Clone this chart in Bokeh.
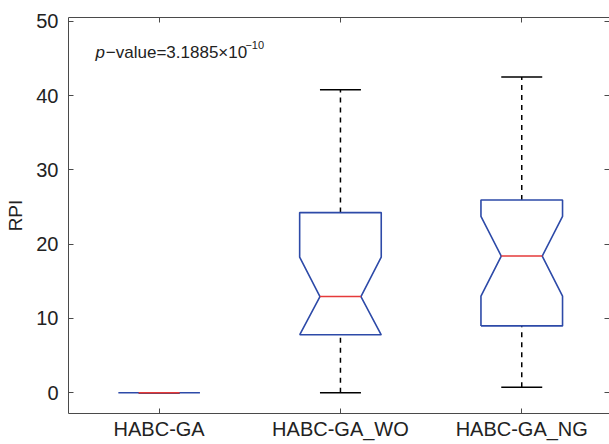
from bokeh.plotting import figure
from bokeh.models import Range1d, FixedTicker, LinearAxis, Label, ColumnDataSource
from bokeh.embed import file_html
from bokeh.resources import INLINE

# ---- data ----
groups = ["HABC-GA", "HABC-GA_WO", "HABC-GA_NG"]
lower_whisker = [0.0, 0.0, 0.75]
q1 = [0.0, 7.8, 9.0]
notch_low = [0.0, 7.8, 13.0]
median = [0.0, 12.95, 18.4]
notch_high = [0.0, 18.25, 23.75]
q3 = [0.0, 24.25, 25.95]
upper_whisker = [0.0, 40.8, 42.5]
y_ticks = [0, 10, 20, 30, 40, 50]

FONT = "Liberation Sans"
BLUE = "#2d4aa8"
RED = "#e53a3a"
AXC = "#4a4a4a"
TXT = "#222222"
BOX_HW = 0.225
NOTCH_HW = 0.113

xpos = [i + 1 for i in range(len(groups))]

p = figure(width=609, height=444, output_backend="svg", toolbar_location=None,
           x_range=Range1d(0.5, 3.484), y_range=Range1d(-2.79, 50.51),
           min_border_left=68, min_border_right=0, min_border_top=17, min_border_bottom=31,
           x_axis_location=None, y_axis_location=None)
p.outline_line_color = None
p.grid.visible = False
p.background_fill_color = "white"
p.border_fill_color = "white"

def style_axis(ax, show_labels=True, show_line=True):
    ax.major_tick_in = 5
    ax.major_tick_out = 0
    ax.minor_tick_in = 0
    ax.minor_tick_out = 0
    ax.major_tick_line_color = AXC
    ax.axis_line_color = AXC if show_line else None
    ax.axis_line_width = 1
    ax.major_label_text_font = FONT
    ax.major_label_text_color = TXT
    ax.major_label_text_font_size = "20px"
    if not show_labels:
        ax.major_label_overrides = {t: "" for t in ax.ticker.ticks}
        ax.major_label_standoff = 0

left = LinearAxis(ticker=FixedTicker(ticks=y_ticks))
style_axis(left)
left.major_label_standoff = 10
left.axis_label = "RPI"
left.axis_label_text_font = FONT
left.axis_label_text_font_style = "normal"
left.axis_label_text_font_size = "19px"
left.axis_label_text_color = TXT
left.axis_label_standoff = 7
p.add_layout(left, "left")

right = LinearAxis(ticker=FixedTicker(ticks=y_ticks))
style_axis(right, show_labels=False, show_line=False)
p.add_layout(right, "right")

below = LinearAxis(ticker=FixedTicker(ticks=xpos),
                   major_label_overrides={x: g for x, g in zip(xpos, groups)})
style_axis(below)
below.major_label_standoff = 4
p.add_layout(below, "below")

above = LinearAxis(ticker=FixedTicker(ticks=xpos))
style_axis(above, show_labels=False)
p.add_layout(above, "above")

src = ColumnDataSource(dict(
    x=xpos,
    lw=lower_whisker, q1=q1, med=median, q3=q3, uw=upper_whisker,
    cl=[x - NOTCH_HW for x in xpos], cr=[x + NOTCH_HW for x in xpos],
))

# whiskers (dashed)
p.segment(x0="x", y0="q3", x1="x", y1="uw", source=src, line_color="black",
          line_width=1.5, line_dash="5 5")
p.segment(x0="x", y0="lw", x1="x", y1="q1", source=src, line_color="black",
          line_width=1.5, line_dash="5 5")
# caps
p.segment(x0="cl", y0="uw", x1="cr", y1="uw", source=src, line_color="black", line_width=1.5)
p.segment(x0="cl", y0="lw", x1="cr", y1="lw", source=src, line_color="black", line_width=1.5)

# notched boxes
xs, ys = [], []
for x, a, nl, m, nh, b in zip(xpos, q1, notch_low, median, notch_high, q3):
    xs.append([x - BOX_HW, x - BOX_HW, x - NOTCH_HW, x - BOX_HW, x - BOX_HW,
               x + BOX_HW, x + BOX_HW, x + NOTCH_HW, x + BOX_HW, x + BOX_HW, x - BOX_HW])
    ys.append([a, nl, m, nh, b, b, nh, m, nl, a, a])
p.multi_line(xs=xs, ys=ys, line_color=BLUE, line_width=1.6)

# medians
p.segment(x0="cl", y0="med", x1="cr", y1="med", source=src, line_color=RED, line_width=1.6)

# p-value annotation
p.add_layout(Label(x=0.649, y=45.76, text="p", text_font=FONT, text_font_size="17px",
                   text_font_style="italic", text_color=TXT, text_baseline="alphabetic"))
p.add_layout(Label(x=0.706, y=45.76, text="\u2212value=3.1885\u00d710", text_font=FONT,
                   text_font_size="17px", text_color=TXT, text_baseline="alphabetic"))
p.add_layout(Label(x=1.476, y=46.75, text="\u221210", text_font=FONT,
                   text_font_size="11px", text_color=TXT, text_baseline="alphabetic"))

open("out.html", "w").write(file_html(p, INLINE))
